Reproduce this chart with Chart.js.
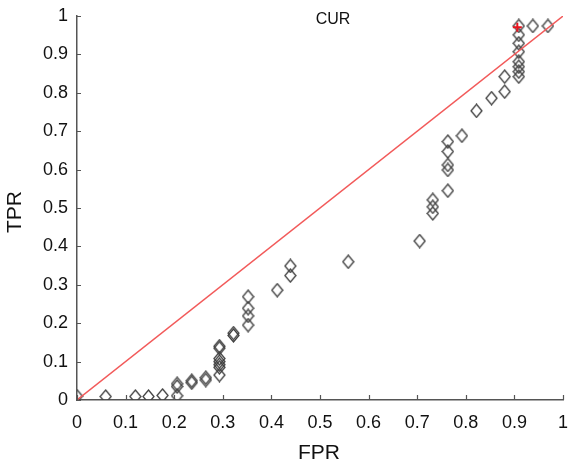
<!DOCTYPE html>
<html>
<head>
<meta charset="utf-8">
<script src="https://cdn.jsdelivr.net/npm/chart.js@4/dist/chart.umd.min.js"></script>
<style>
  body { margin: 0; background: #fff; }
  #wrap { width: 570px; height: 465px; }
</style>
</head>
<body>
<div id="wrap"><canvas id="roc" width="570" height="465"></canvas></div>
<script>
// ROC points
const fprValues = [0, 0.059, 0.12, 0.147, 0.176, 0.206, 0.206, 0.206, 0.236, 0.236,
  0.265, 0.265, 0.293, 0.293, 0.293, 0.293, 0.293, 0.293, 0.293, 0.322,
  0.322, 0.352, 0.352, 0.352, 0.352, 0.412, 0.439, 0.439, 0.558, 0.705,
  0.732, 0.732, 0.732, 0.763, 0.763, 0.763, 0.763, 0.763, 0.792, 0.822,
  0.853, 0.88, 0.88, 0.909, 0.909, 0.909, 0.909, 0.909, 0.909, 0.909,
  0.909, 0.938, 0.969];
const tprValues = [0.01, 0.009, 0.009, 0.009, 0.012, 0.011, 0.035, 0.042, 0.045, 0.05,
  0.052, 0.058, 0.065, 0.085, 0.092, 0.1, 0.108, 0.135, 0.14, 0.168,
  0.174, 0.195, 0.219, 0.239, 0.269, 0.286, 0.324, 0.349, 0.36, 0.414,
  0.486, 0.503, 0.521, 0.545, 0.599, 0.612, 0.647, 0.673, 0.688, 0.753,
  0.786, 0.803, 0.842, 0.842, 0.855, 0.868, 0.881, 0.907, 0.929, 0.951,
  0.974, 0.974, 0.974];

// chance line and the highlighted point
const diagX = [0, 1];
const diagY = [0, 1];
const bestFpr = [0.906];
const bestTpr = [0.971];

const tickValues = [0, 0.1, 0.2, 0.3, 0.4, 0.5, 0.6, 0.7, 0.8, 0.9, 1];

const toPoints = (xs, ys) => xs.map((x, i) => ({ x: x, y: ys[i] }));

const FONT = "'Liberation Sans', Arial, sans-serif";

// slightly tall hollow diamond, like the matlab marker
function makeDiamond() {
  const c = document.createElement("canvas");
  c.width = 13;
  c.height = 15;
  const g = c.getContext("2d");
  g.strokeStyle = "#404040";
  g.lineWidth = 1.3;
  g.beginPath();
  g.moveTo(6.5, 1);
  g.lineTo(12, 7.5);
  g.lineTo(6.5, 14);
  g.lineTo(1, 7.5);
  g.closePath();
  g.stroke();
  return c;
}

// ticks pointing into the plot + text labels
const decorations = {
  id: "decorations",
  afterDraw(chart) {
    const { ctx, chartArea, scales } = chart;
    ctx.save();
    ctx.strokeStyle = "#555";
    ctx.lineWidth = 1.2;
    ctx.beginPath();
    tickValues.forEach((v) => {
      const px = Math.round(scales.x.getPixelForValue(v)) + 0.5;
      ctx.moveTo(px, chartArea.bottom);
      ctx.lineTo(px, chartArea.bottom - 5);
      const py = Math.round(scales.y.getPixelForValue(v)) + 0.5;
      ctx.moveTo(chartArea.left, py);
      ctx.lineTo(chartArea.left + 4, py);
    });
    ctx.stroke();

    ctx.fillStyle = "#111";
    ctx.textAlign = "center";
    ctx.textBaseline = "middle";
    ctx.font = "16px " + FONT;
    ctx.fillText("CUR", 333, 20);

    ctx.font = "21px " + FONT;
    ctx.fillText("FPR", 319, 453);
    ctx.translate(15, 212);
    ctx.rotate(-Math.PI / 2);
    ctx.fillText("TPR", 0, 0);
    ctx.restore();
  },
};

new Chart(document.getElementById("roc"), {
  type: "scatter",
  data: {
    datasets: [
      {
        label: "best",
        data: toPoints(bestFpr, bestTpr),
        pointStyle: "cross",
        pointRadius: 4.5,
        borderColor: "#e8141e",
        borderWidth: 2,
        order: 0,
      },
      {
        label: "chance",
        data: toPoints(diagX, diagY),
        showLine: true,
        pointRadius: 0,
        borderColor: "#f25a5a",
        borderWidth: 1.4,
        order: 1,
      },
      {
        label: "CUR",
        data: toPoints(fprValues, tprValues),
        pointStyle: makeDiamond(),
        pointRadius: 6,
        order: 2,
      },
    ],
  },
  options: {
    responsive: false,
    devicePixelRatio: 1,
    animation: false,
    layout: { padding: { left: 0, right: 2, top: 16, bottom: 0 } },
    plugins: {
      legend: { display: false },
      tooltip: { enabled: false },
    },
    scales: {
      x: {
        type: "linear",
        min: 0,
        max: 1,
        afterBuildTicks: (scale) => {
          scale.ticks = tickValues.map((v) => ({ value: v }));
        },
        afterFit: (scale) => {
          scale.height = 65;
          scale.paddingLeft = 0;
          scale.paddingRight = 0;
        },
        grid: { display: false, drawTicks: false },
        border: { display: true, color: "#555", width: 1.5 },
        ticks: {
          padding: 12,
          maxRotation: 0,
          color: "#111",
          font: { family: FONT, size: 18 },
          callback: (v) => String(v),
        },
      },
      y: {
        type: "linear",
        min: 0,
        max: 1,
        afterBuildTicks: (scale) => {
          scale.ticks = tickValues.map((v) => ({ value: v }));
        },
        afterFit: (scale) => {
          scale.width = 77;
          scale.paddingTop = 0;
          scale.paddingBottom = 0;
        },
        grid: { display: false, drawTicks: false },
        border: { display: true, color: "#555", width: 1.5 },
        ticks: {
          padding: 9,
          color: "#111",
          font: { family: FONT, size: 18 },
          callback: (v) => String(v),
        },
      },
    },
  },
  plugins: [decorations],
});
</script>
</body>
</html>
